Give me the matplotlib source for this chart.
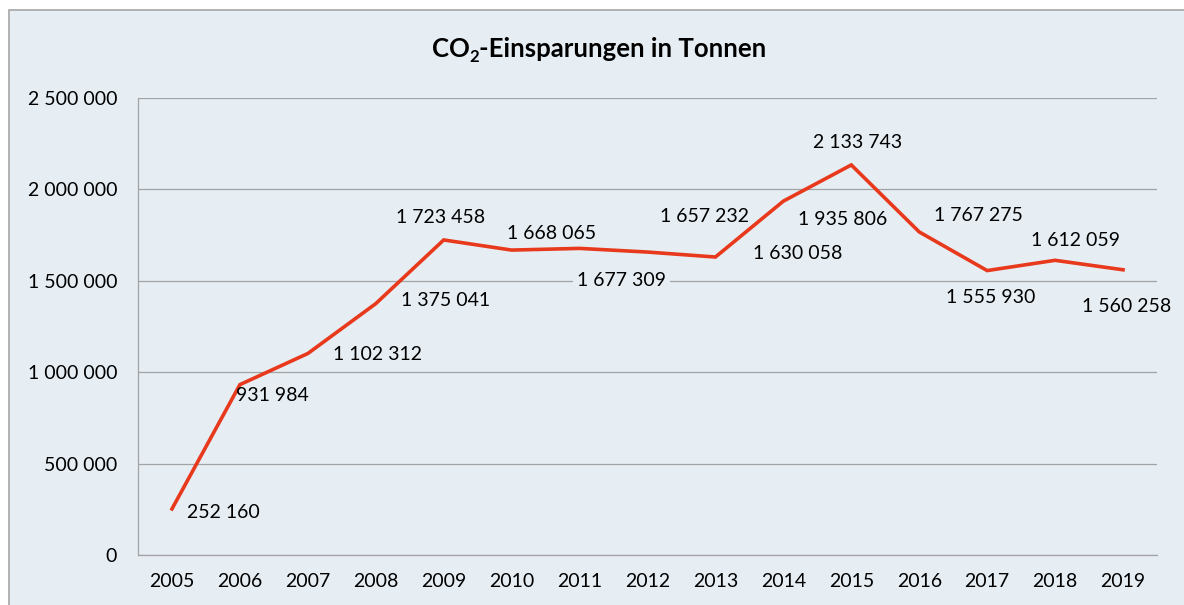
import matplotlib
matplotlib.use("Agg")
import matplotlib.pyplot as plt
from matplotlib.patches import Rectangle

plt.rcParams['font.family'] = ['Lato', 'DejaVu Sans']

years = ["2005", "2006", "2007", "2008", "2009", "2010", "2011", "2012",
         "2013", "2014", "2015", "2016", "2017", "2018", "2019"]
values = [252160, 931984, 1102312, 1375041, 1723458, 1668065, 1677309, 1657232,
          1630058, 1935806, 2133743, 1767275, 1555930, 1612059, 1560258]
value_labels = ["252 160", "931 984", "1 102 312", "1 375 041", "1 723 458",
                "1 668 065", "1 677 309", "1 657 232", "1 630 058", "1 935 806",
                "2 133 743", "1 767 275", "1 555 930", "1 612 059", "1 560 258"]
y_ticks = [0, 500000, 1000000, 1500000, 2000000, 2500000]
y_tick_labels = ["0", "500 000", "1 000 000", "1 500 000", "2 000 000", "2 500 000"]
title_main = "CO"
title_sub = "2"
title_rest = "-Einsparungen in Tonnen"

# label offsets in pixels (dx, dy)
offsets = [(51, -4), (32, -11), (70, -1), (70, 3), (-3, 22), (40, 17), (42, -32),
           (57, 36), (82, 4), (59, -18), (6, 22), (59, 16), (4, -27), (20, 20), (4, -37)]

bg = "#E6EEF4"
line_color = "#E8391C"
grid_color = "#A3A3A3"

W, H = 1184, 605
fig = plt.figure(figsize=(W / 100, H / 100), dpi=100)
fig.patch.set_facecolor("white")
frame = Rectangle((9 / W, -0.1), 1.2, (H - 10) / H + 0.1,
                  transform=fig.transFigure, facecolor=bg,
                  edgecolor="#A6A6A6", linewidth=1.2, zorder=-10)
fig.patches.append(frame)

ax = fig.add_axes([138 / W, 50 / H, (1157 - 138) / W, 457 / H])
ax.set_facecolor(bg)
ax.patch.set_alpha(0)

x = list(range(len(years)))
ax.plot(x, values, color=line_color, linewidth=2.6, solid_joinstyle="miter", zorder=3)

ax.set_xlim(-0.5, len(years) - 0.5)
ax.set_ylim(0, 2500000)
ax.set_yticks(y_ticks)
ax.set_yticklabels(y_tick_labels)
ax.set_xticks(x)
ax.set_xticklabels(years)
ax.tick_params(axis="both", length=0, labelsize=14, colors="black")
ax.tick_params(axis="y", pad=15)
ax.tick_params(axis="x", pad=13)
ax.grid(axis="y", color=grid_color, linewidth=0.9)
ax.set_axisbelow(True)
for s in ["top", "right"]:
    ax.spines[s].set_visible(False)
for s in ["left", "bottom"]:
    ax.spines[s].set_color(grid_color)
    ax.spines[s].set_linewidth(0.9)

for i, (v, lab, (dx, dy)) in enumerate(zip(values, value_labels, offsets)):
    kw = {}
    if i == 6:
        kw["bbox"] = dict(boxstyle="square,pad=0.2", facecolor=bg, edgecolor="none")
    ax.annotate(lab, (i, v), xytext=(dx, dy), textcoords="offset pixels",
                ha="center", va="center", fontsize=14, color="black",
                zorder=4, annotation_clip=False, **kw)

# title composed of three pieces (subscript 2)
fig.canvas.draw()
r = fig.canvas.get_renderer()
fs = 18.5
t1 = fig.text(0, 0, title_main, fontsize=fs, fontweight="bold", ha="left", va="baseline")
t2 = fig.text(0, 0, title_sub, fontsize=fs * 0.65, fontweight="bold", ha="left", va="baseline")
t3 = fig.text(0, 0, title_rest, fontsize=fs, fontweight="bold", ha="left", va="baseline")
w1 = t1.get_window_extent(r).width
w2 = t2.get_window_extent(r).width
w3 = t3.get_window_extent(r).width
total = w1 + w2 + w3
x0 = 599 - total / 2
base = H - 57
t1.set_position((x0 / W, base / H))
t2.set_position(((x0 + w1) / W, (base - 5) / H))
t3.set_position(((x0 + w1 + w2) / W, base / H))

fig.savefig("out.png", dpi=100)
